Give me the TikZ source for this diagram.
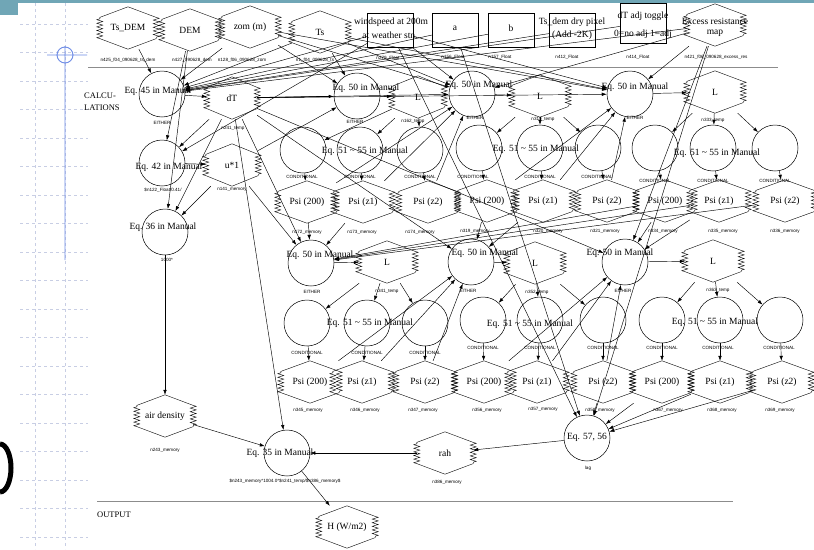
\documentclass[tikz,border=0pt]{standalone}
\usepackage{fontspec}
\setmainfont{Liberation Serif}
\newfontfamily\subfont{Liberation Sans}
\usetikzlibrary{arrows.meta,calc,decorations.pathmorphing}
\definecolor{barteal}{RGB}{112,166,182}
\definecolor{gridc}{RGB}{200,206,228}
\definecolor{crossc}{RGB}{110,140,230}
\definecolor{sepc}{RGB}{140,140,140}
\tikzset{
 hexb/.style={rectangle, minimum height=42pt, inner sep=0pt, font=\fontsize{9.5}{10}\selectfont},
 hexline/.style={draw, line width=0.4pt, decoration={zigzag, segment length=3.6pt, amplitude=3pt}},
 circ/.style={circle, draw, line width=0.5pt, minimum size=46pt, inner sep=0pt},
 lab/.style={inner sep=0pt, font=\fontsize{9.5}{10}\selectfont},
 sub/.style={inner sep=0pt, font=\subfont\fontsize{4.6}{5}\selectfont},
 inbox/.style={rectangle, draw, line width=0.5pt, minimum width=46pt, minimum height=34pt, inner sep=0pt},
 arr/.style={draw, line width=0.45pt, -{Latex[length=5pt,width=3.5pt]}},
 sect/.style={inner sep=0pt, anchor=west, font=\fontsize{8.5}{9}\selectfont},
}
\newcommand\hexnode[4][56]{%
  \node[hexb, minimum width=#1pt] (#2) at (#3) {#4};
  \draw[hexline] (#2.north) -- ($(#2.north east)!.25!(#2.south east)$)
     decorate{ -- ($(#2.north east)!.75!(#2.south east)$)} -- (#2.south)
     -- ($(#2.north west)!.75!(#2.south west)$)
     decorate{ -- ($(#2.north west)!.25!(#2.south west)$)} -- cycle;
}
\newcommand\eqff{Eq. 51 \textasciitilde{} 55 in Manual}
\begin{document}
\begin{tikzpicture}[x=1pt,y=-1pt]
\fill[white] (0,0) rectangle (814,549);
\useasboundingbox (0,0) rectangle (814,549);
% slide decorations
\fill[barteal] (0,0) rectangle (814,3);
\fill[barteal] (0,0) rectangle (18,15);
\foreach \yy in {24,52.5,...,540} \draw[gridc, dashed, line width=0.6pt] (20,\yy) -- (88,\yy);
\foreach \xx in {35,65} \draw[gridc, dashed, line width=0.6pt] (\xx,3) -- (\xx,549);
\draw[crossc, line width=0.9pt] (65,46) -- (65,260) (47,55) -- (87,55) (65,55) circle[radius=8];
\draw[line width=5pt] (0,492) arc[start angle=90, end angle=-90, x radius=11, y radius=24];
% separators
\draw[sepc, line width=0.7pt] (88,67) -- (778,67);
\draw[sepc, line width=1pt] (97,501) -- (733,501);
\node[sect] (calc1) at (84,96) {CALCU-};
\node[sect] (calc2) at (84,108) {LATIONS};
\node[sect] (outp) at (97,515) {OUTPUT};

% ---- inputs
\hexnode{tsdem}{128,28}{Ts\_DEM}
\hexnode{dem}{190,30}{DEM}
\hexnode{zom}{250,27}{zom (m)}
\hexnode{ts}{320,32}{Ts}
\node[inbox] (wind) at (390,30) {};
\node[lab] (windt1) at (391,22) {windspeed at 200m};
\node[lab] (windt2) at (390,35) {at weather stn.};
\node[inbox] (a) at (455,30) {};
\node[lab] (at) at (455,28) {a};
\node[inbox] (b) at (511,30) {};
\node[lab] (bt) at (511,28) {b};
\node[inbox] (tsdry) at (572,30) {};
\node[lab] (tsdryt1) at (572,22) {Ts\_dem dry pixel};
\node[lab] (tsdryt2) at (572,35) {(Add -2K)};
\node[inbox, minimum height=40pt] (dtadj) at (643,23) {};
\node[lab] (dtadjt1) at (643,16) {dT adj toggle};
\node[lab] (dtadjt2) at (643,34) {0=no adj 1=adj};
\hexnode{excess}{715,25}{}
\node[lab] (excesst1) at (715,21) {Excess resistance};
\node[lab] (excesst2) at (715,33) {map};
\node[sub] (s1) at (128,60) {n425\_f04\_090628\_ts\_dem};
\node[sub] (s2) at (192,60) {n427\_090628\_dem};
\node[sub] (s3) at (242,60) {n128\_f06\_090628\_zom};
\node[sub] (s4) at (315,60) {n1\_f04\_090628\_ts};
\node[sub] (s5) at (388,58) {n279\_Float};
\node[sub] (s6) at (453,57) {n156\_Float};
\node[sub] (s7) at (500,57) {n157\_Float};
\node[sub] (s8) at (567,57) {n412\_Float};
\node[sub] (s9) at (638,57) {n414\_Float};
\node[sub] (s10) at (716,57) {n421\_f06\_090628\_excess\_res};

% ---- left column
\node[circ] (eq45) at (162,94) {};
\node[lab] (eq45t) at (158,91) {Eq. 45 in Manual};
\node[sub] (eq45s) at (162,123) {EITHER};
\hexnode[50]{dT}{232,98}{dT}
\node[sub] (dTs) at (233,128) {n241\_temp};
\node[circ] (eq42) at (162,163) {};
\node[lab] (eq42t) at (169,167) {Eq. 42 in Manual};
\node[sub] (eq42s) at (163,190) {\$n122\_Float/0.41/};
\hexnode[52]{ustar}{232,165}{u*1}
\node[sub] (ustars) at (232,189) {n141\_memory};
\node[circ] (eq36) at (165,232) {};
\node[lab] (eq36t) at (163,227) {Eq. 36 in Manual};
\node[sub] (eq36s) at (167,260) {1000*};
\hexnode{airdens}{165,416}{air density}
\node[sub] (airdenss) at (165,450) {n243\_memory};
\node[circ] (eq35) at (287,453) {};
\node[lab] (eq35t) at (280,453) {Eq. 35 in Manual};
\node[sub] (eq35s) at (285,481) {\$n243\_memory*1004.0*\$n241\_temp/\$n386\_memory\$};
\hexnode{H}{347,527}{H (W/m2)}
\hexnode{rah}{445,453}{rah}
\node[sub] (rahs) at (447,482) {n386\_memory};
\node[circ] (eq57) at (587,438) {};
\node[lab] (eq57t) at (587,437) {Eq. 57, 56};
\node[sub] (eq57s) at (588,468) {lag};

% ---- row 1
\node[circ] (eq50a) at (357,96) {};
\node[lab] (eq50at) at (366,88) {Eq. 50 in Manual};
\node[sub] (eq50as) at (355,122) {EITHER};
\hexnode[52]{La}{418,97}{L}
\node[sub] (Las) at (413,121) {n162\_temp};
\node[circ] (eq50b) at (472,94) {};
\node[lab] (eq50bt) at (479,85) {Eq. 50 in Manual};
\node[sub] (eq50bs) at (475,118) {EITHER};
\hexnode{Lb}{540,96}{L}
\node[sub] (Lbs) at (543,119) {n319\_temp};
\node[circ] (eq50c) at (630,94) {};
\node[lab] (eq50ct) at (635,87) {Eq. 50 in Manual};
\node[sub] (eq50cs) at (635,118) {EITHER};
\hexnode{Lc}{715,92}{L}
\node[sub] (Lcs) at (713,120) {n333\_temp};

\node[circ] (c1a) at (303,150) {};
\node[circ] (c2a) at (360,150) {};
\node[circ] (c3a) at (420,150) {};
\node[lab] (cat) at (365,151) {\eqff};
\node[circ] (c1b) at (479,148) {};
\node[circ] (c2b) at (540,148) {};
\node[circ] (c3b) at (598,148) {};
\node[lab] (cbt) at (536,149) {\eqff};
\node[circ] (c1c) at (655,148) {};
\node[circ] (c2c) at (713,148) {};
\node[circ] (c3c) at (775,148) {};
\node[lab] (cct) at (717,153) {\eqff};
\node[sub] (k1a) at (302,177) {CONDITIONAL};
\node[sub] (k2a) at (360,177) {CONDITIONAL};
\node[sub] (k3a) at (420,177) {CONDITIONAL};
\node[sub] (k1b) at (473,177) {CONDITIONAL};
\node[sub] (k2b) at (540,177) {CONDITIONAL};
\node[sub] (k3b) at (597,177) {CONDITIONAL};
\node[sub] (k1c) at (655,181) {CONDITIONAL};
\node[sub] (k2c) at (713,181) {CONDITIONAL};
\node[sub] (k3c) at (775,181) {CONDITIONAL};

\hexnode[58]{pa1}{307,202}{Psi (200)}
\hexnode[58]{pa2}{363,202}{Psi (z1)}
\hexnode[58]{pa3}{428,202}{Psi (z2)}
\hexnode[58]{pb1}{487,201}{Psi (200)}
\hexnode[58]{pb2}{543,201}{Psi (z1)}
\hexnode[58]{pb3}{607,201}{Psi (z2)}
\hexnode[58]{pc1}{665,201}{Psi (200)}
\hexnode[58]{pc2}{719,201}{Psi (z1)}
\hexnode[58]{pc3}{785,201}{Psi (z2)}
\node[sub] (m1) at (307,232) {n172\_memory};
\node[sub] (m2) at (362,232) {n173\_memory};
\node[sub] (m3) at (420,232) {n174\_memory};
\node[sub] (m4) at (475,231) {n319\_memory};
\node[sub] (m5) at (548,231) {n320\_memory};
\node[sub] (m6) at (605,231) {n321\_memory};
\node[sub] (m7) at (663,231) {n334\_memory};
\node[sub] (m8) at (723,231) {n335\_memory};
\node[sub] (m9) at (785,231) {n336\_memory};

% ---- row 2
\node[circ] (eq50d) at (311,263) {};
\node[lab] (eq50dt) at (320,255) {Eq. 50 in Manual};
\node[sub] (eq50ds) at (312,292) {EITHER};
\hexnode{Ld}{387,262}{L}
\node[sub] (Lds) at (387,291) {n341\_temp};
\node[circ] (eq50e) at (471,262) {};
\node[lab] (eq50et) at (485,253) {Eq. 50 in Manual};
\node[sub] (eq50es) at (468,291) {EITHER};
\hexnode{Le}{535,263}{L}
\node[sub] (Les) at (537,292) {n352\_temp};
\node[circ] (eq50f) at (625,262) {};
\node[lab] (eq50ft) at (620,253) {Eq. 50 in Manual};
\node[sub] (eq50fs) at (623,291) {EITHER};
\hexnode{Lf}{713,261}{L}
\node[sub] (Lfs) at (718,290) {n363\_temp};

\node[circ] (c1d) at (307,323) {};
\node[circ] (c2d) at (367,323) {};
\node[circ] (c3d) at (425,323) {};
\node[lab] (cdt) at (370,323) {\eqff};
\node[circ] (c1e) at (483,320) {};
\node[circ] (c2e) at (540,320) {};
\node[circ] (c3e) at (603,320) {};
\node[lab] (cet) at (530,324) {\eqff};
\node[circ] (c1f) at (662,320) {};
\node[circ] (c2f) at (720,320) {};
\node[circ] (c3f) at (780,320) {};
\node[lab] (cft) at (715,322) {\eqff};
\node[sub] (k1d) at (307,353) {CONDITIONAL};
\node[sub] (k2d) at (367,353) {CONDITIONAL};
\node[sub] (k3d) at (425,353) {CONDITIONAL};
\node[sub] (k1e) at (483,348) {CONDITIONAL};
\node[sub] (k2e) at (540,348) {CONDITIONAL};
\node[sub] (k3e) at (603,348) {CONDITIONAL};
\node[sub] (k1f) at (662,348) {CONDITIONAL};
\node[sub] (k2f) at (718,348) {CONDITIONAL};
\node[sub] (k3f) at (779,348) {CONDITIONAL};

\hexnode[58]{pd1}{310,382}{Psi (200)}
\hexnode[58]{pd2}{362,382}{Psi (z1)}
\hexnode[58]{pd3}{425,382}{Psi (z2)}
\hexnode[58]{pe1}{484,382}{Psi (200)}
\hexnode[58]{pe2}{537,382}{Psi (z1)}
\hexnode[58]{pe3}{603,382}{Psi (z2)}
\hexnode[58]{pf1}{662,382}{Psi (200)}
\hexnode[58]{pf2}{720,382}{Psi (z1)}
\hexnode[58]{pf3}{782,382}{Psi (z2)}
\node[sub] (m10) at (308,410) {n345\_memory};
\node[sub] (m11) at (365,410) {n346\_memory};
\node[sub] (m12) at (423,410) {n347\_memory};
\node[sub] (m13) at (487,410) {n356\_memory};
\node[sub] (m14) at (543,409) {n357\_memory};
\node[sub] (m15) at (600,410) {n358\_memory};
\node[sub] (m16) at (668,410) {n367\_memory};
\node[sub] (m17) at (722,410) {n368\_memory};
\node[sub] (m18) at (780,410) {n369\_memory};

% ---- connectors
\foreach \s in {tsdem,zom,ts,wind,a,b,tsdry,dtadj,excess} \draw[arr] (\s) -- (eq45);
\draw[arr] (dem) -- (eq42);
\draw[arr] (dem) -- (eq36);
\draw[arr] (wind) -- (eq42);
\draw[arr] (dT) -- (eq42);
\draw[arr] (eq42) -- (ustar);
\draw[arr] (ustar) -- (eq36);
\draw[arr] (dT) -- (eq36);
\draw[arr] (eq36) -- (airdens);
\draw[arr] (eq45) -- (dT);
\draw[arr, line width=0.8pt] (dT) -- (eq50a);
\foreach \t in {eq50b,eq50c,eq50d,eq50e,eq50f,eq35} \draw[arr] (dT) -- (\t);
\draw[arr] (ustar) -- (eq50a);
\draw[arr] (ustar) -- (eq50d);
\foreach \t in {eq50a,eq50b,eq50c} \draw[arr] (ts) -- (\t);
\foreach \t in {eq50a,eq50b,eq50c} \draw[arr] (zom) -- (\t);
\foreach \t in {eq50b,eq50c} \draw[arr] (wind) -- (\t);
\foreach \t in {eq50b,eq50c,eq50f,eq57} \draw[arr] (excess) -- (\t);
\draw[arr] (wind) -- (eq57);
\draw[arr] (a) -- (eq57);
% iteration groups
\foreach \g/\L in {a/La,b/Lb,c/Lc,d/Ld,e/Le,f/Lf} {
  \draw[arr] (eq50\g) -- (\L);
  \foreach \i in {1,2,3} {
    \draw[arr] (\L) -- (c\i\g);
    \draw[arr] (c\i\g) -- (p\g\i);
  }
}
\foreach \g/\n in {a/eq50b,b/eq50c,c/eq50d,d/eq50e,e/eq50f,f/eq57}
  \foreach \i in {1,2,3} \draw[arr] (p\g\i) -- (\n);
\draw[arr] (pa1) -- (eq50d);
\draw[arr] (pa2) -- (eq50d);
\draw[arr] (pb1) -- (eq50e);
\draw[arr] (pb2) -- (eq50e);
\draw[arr] (pc1) -- (eq50f);
\draw[arr] (pc2) -- (eq50f);
\draw[arr] (pe3) -- (eq57);
\draw[arr] (eq57) -- (rah);
\draw[arr] (rah) -- (eq35);
\draw[arr] (airdens) -- (eq35);
\draw[arr] (eq35) -- (H);
\end{tikzpicture}
\end{document}
